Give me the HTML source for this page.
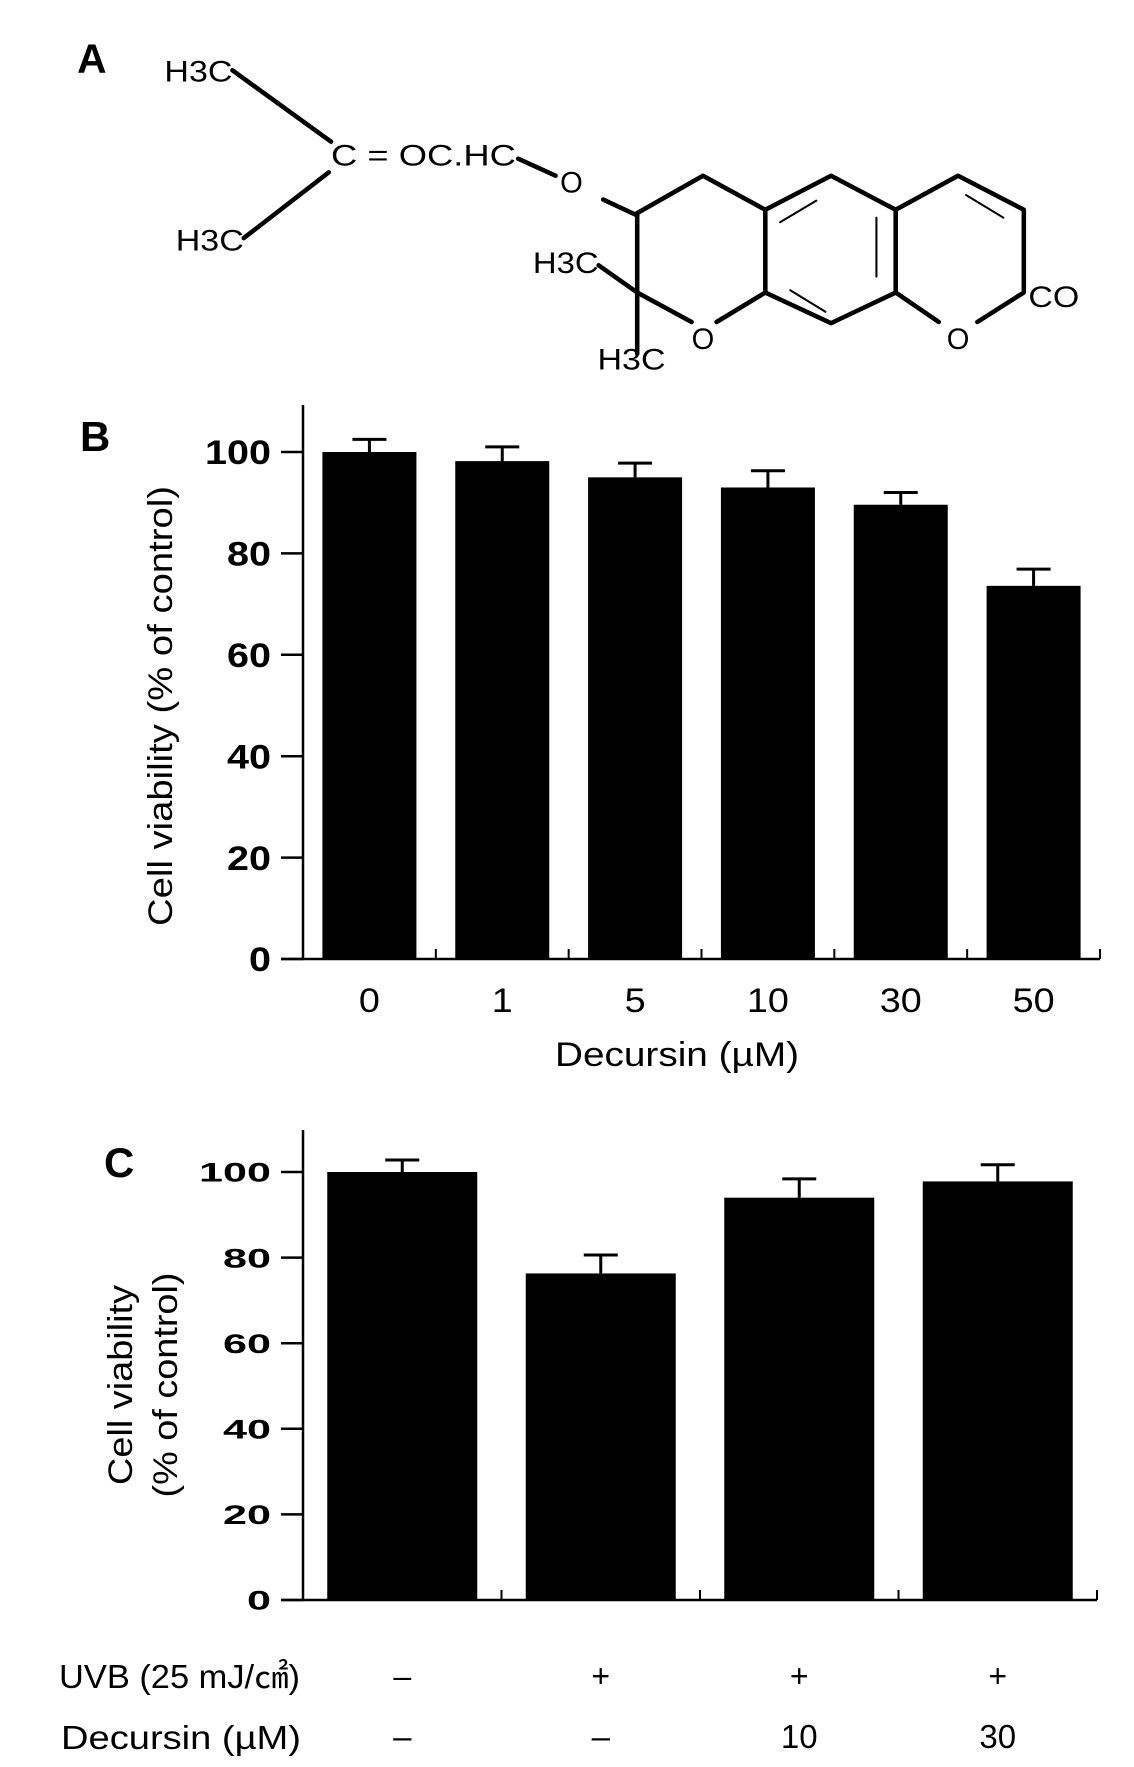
<!DOCTYPE html>
<html><head><meta charset="utf-8"><style>
html,body{margin:0;padding:0;background:#fff;}
svg{display:block;font-family:"Liberation Sans",Arial,sans-serif;}
</style></head><body>
<svg id="fig" width="1134" height="1767" viewBox="0 0 1134 1767" xmlns="http://www.w3.org/2000/svg">
<g transform="scale(1.1338)" stroke="#000" fill="none" stroke-linecap="round" stroke-linejoin="round">
  <text x="68" y="64" font-size="36" font-weight="bold" fill="#000" stroke="none">A</text>
  <g font-size="26" fill="#000" stroke="none">
    <text x="145" y="72" textLength="60" lengthAdjust="spacingAndGlyphs">H3C</text>
    <text x="155" y="221" textLength="60" lengthAdjust="spacingAndGlyphs">H3C</text>
    <text x="292" y="146" textLength="163" lengthAdjust="spacingAndGlyphs">C = OC.HC</text>
    <text x="494" y="170" textLength="20" lengthAdjust="spacingAndGlyphs">O</text>
    <text x="470" y="241" textLength="58" lengthAdjust="spacingAndGlyphs">H3C</text>
    <text x="527" y="326" textLength="60" lengthAdjust="spacingAndGlyphs">H3C</text>
    <text x="610" y="308" textLength="20" lengthAdjust="spacingAndGlyphs">O</text>
    <text x="835" y="308" textLength="20" lengthAdjust="spacingAndGlyphs">O</text>
    <text x="907" y="271" textLength="45" lengthAdjust="spacingAndGlyphs">CO</text>
  </g>
  <g stroke-width="4">
    <path d="M205 62 L292 125"/><path d="M290 152 L215 210"/>
    <path d="M457 140 L490 155"/><path d="M532 176 L562 190"/>
    <path d="M562 188 L620 155 L675 185 L675 258 L632 284"/>
    <path d="M610 284 L562 258 L562 188"/><path d="M562 258 L562 312"/><path d="M528 234 L562 258"/>
    <path d="M675 185 L733 155 L790 185 L790 258 L733 285 L675 258"/>
    <path d="M790 185 L845 155 L903 185 L903 258 L862 284"/><path d="M828 284 L790 258"/>
  </g>
  <g stroke-width="1.8">
    <path d="M688 196 L720 177"/><path d="M773 192 L773 244"/><path d="M697 256 L728 275"/><path d="M852 172 L885 192"/>
  </g>
</g>
<g id="chartB"></g>
<g id="chartC"></g>
</svg>
<script>
const bCategories=["0","1","5","10","30","50"];
const bValues=[100,98.2,95,93,89.6,73.6];
const bErrors=[2.5,2.8,2.8,3.3,2.4,3.3];
const bTicks=[0,20,40,60,80,100];
const cUVB=["–","+","+","+"];
const cDecursin=["–","–","10","30"];
const cValues=[100,76.3,94,97.8];
const cErrors=[2.8,4.3,4.4,3.9];
const cTicks=[0,20,40,60,80,100];
const NS="http://www.w3.org/2000/svg";
function mk(parent,tag,attrs,text){const e=document.createElementNS(NS,tag);for(const k in attrs)e.setAttribute(k,attrs[k]);if(text!==undefined)e.textContent=text;parent.appendChild(e);return e;}
function drawChart(g,o){
  const y=v=>o.y0-(v/100)*(o.y0-o.y100);
  const cw=(o.xEnd-o.x0)/o.values.length;
  const x=i=>o.x0+i*cw;
  const ax=mk(g,"line",{x1:o.x0,y1:o.yTop,x2:o.x0,y2:o.y0,stroke:"#000","stroke-width":2.5});
  
  
  const bx=mk(g,"line",{x1:o.x0-22,y1:o.y0,x2:o.xEnd,y2:o.y0,stroke:"#000","stroke-width":2.5});
  
  
  o.ticks.forEach(t=>{
    const tk=mk(g,"line",{x1:o.x0-22,y1:y(t),x2:o.x0,y2:y(t),stroke:"#000","stroke-width":2.5});
    
    
    const s=String(t);
    const attrs={x:o.x0-32,y:y(t)+o.tickFont*0.36,"text-anchor":"end","font-size":o.tickFont,"font-weight":"bold",textLength:o.charW*s.length,lengthAdjust:"spacingAndGlyphs"};
    const tl=mk(g,"text",attrs,s);
    
    
  });
  for(let i=1;i<=o.values.length;i++){
    const tk=mk(g,"line",{x1:x(i),y1:o.y0,x2:x(i),y2:o.y0-10,stroke:"#000","stroke-width":2});
    
    
  }
  o.values.forEach((v,i)=>{
    const cx=x(i)+cw/2;
    const er=mk(g,"path",{d:`M${cx} ${y(v)} V${y(v+o.errors[i])} M${cx-17} ${y(v+o.errors[i])} H${cx+17}`,stroke:"#000","stroke-width":3,fill:"none"});
    
    
    const r=mk(g,"rect",{x:cx-o.bw/2,y:y(v),width:o.bw,height:o.y0-y(v),fill:"#000"});
    
    
  });
  return {x,cw,y};
}
const gB=document.getElementById('chartB');
const B=drawChart(gB,{x0:303,xEnd:1100,y0:959,y100:452,yTop:405,values:bValues,errors:bErrors,ticks:bTicks,bw:94,tickFont:34,charW:22});
bCategories.forEach((c,i)=>{
  const t=mk(gB,"text",{x:B.x(i)+B.cw/2,y:1012,"text-anchor":"middle","font-size":34,textLength:c.length*21,lengthAdjust:"spacingAndGlyphs"},c);
  
  
});
let t=mk(gB,"text",{x:677,y:1066,"text-anchor":"middle","font-size":34,textLength:244,lengthAdjust:"spacingAndGlyphs"},"Decursin (µM)");


t=mk(gB,"text",{x:0,y:0,"text-anchor":"middle","font-size":34,textLength:440,lengthAdjust:"spacingAndGlyphs",transform:"translate(172,706) rotate(-90)"},"Cell viability (% of control)");


t=mk(gB,"text",{x:80,y:451,"font-size":42,"font-weight":"bold"},"B");



const gC=document.getElementById('chartC');
const C=drawChart(gC,{x0:303,xEnd:1097,y0:1600,y100:1172,yTop:1130,values:cValues,errors:cErrors,ticks:cTicks,bw:150,tickFont:27,charW:24});
cUVB.forEach((c,i)=>{
  const e=mk(gC,"text",{x:C.x(i)+C.cw/2,y:1687,"text-anchor":"middle","font-size":32},c);
  
  
});
cDecursin.forEach((c,i)=>{
  const e=mk(gC,"text",{x:C.x(i)+C.cw/2,y:1748,"text-anchor":"middle","font-size":33},c);
  
  
});
t=mk(gC,"text",{x:59,y:1688,"font-size":33,textLength:241,lengthAdjust:"spacingAndGlyphs"},"UVB (25 mJ/㎠)");


t=mk(gC,"text",{x:61,y:1749,"font-size":33,textLength:240,lengthAdjust:"spacingAndGlyphs"},"Decursin (µM)");


t=mk(gC,"text",{x:0,y:0,"text-anchor":"middle","font-size":34,textLength:200,lengthAdjust:"spacingAndGlyphs",transform:"translate(132,1385) rotate(-90)"},"Cell viability");


t=mk(gC,"text",{x:0,y:0,"text-anchor":"middle","font-size":34,textLength:225,lengthAdjust:"spacingAndGlyphs",transform:"translate(177,1385) rotate(-90)"},"(% of control)");


t=mk(gC,"text",{x:104,y:1177,"font-size":42,"font-weight":"bold"},"C");


</script>
</body></html>
